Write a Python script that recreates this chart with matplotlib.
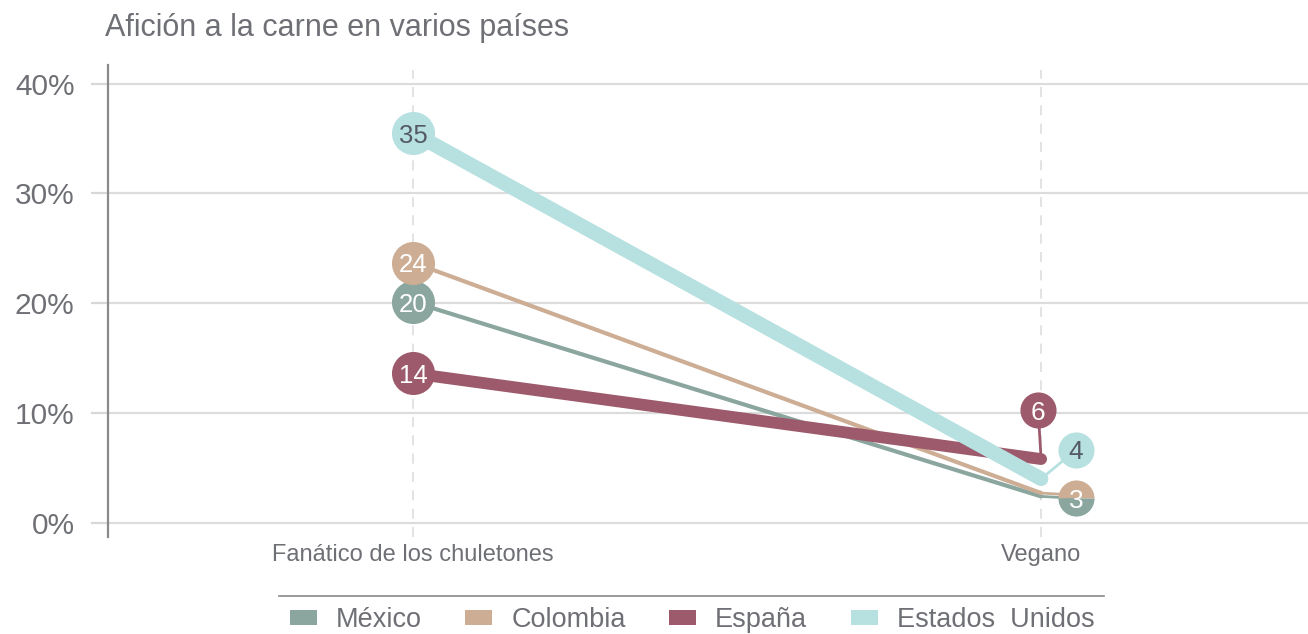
import matplotlib
matplotlib.use("Agg")
import matplotlib.pyplot as plt
from matplotlib.patches import Patch
from matplotlib.lines import Line2D
from matplotlib.transforms import offset_copy

plt.rcParams['font.family'] = ['Liberation Sans', 'DejaVu Sans']

title = "Afición a la carne en varios países"
categories = ["Fanático de los chuletones", "Vegano"]
countries = ["México", "Colombia", "España", "Estados  Unidos"]
mexico = [20.1, 2.4]
colombia = [23.7, 2.7]
espana = [13.6, 5.8]
eeuu = [35.5, 4.0]
start_labels = ["20", "24", "14", "35"]
end_labels = ["3", "3", "6", "4"]
yticks = [0, 10, 20, 30, 40]
ytick_labels = ["0%", "10%", "20%", "30%", "40%"]

series = [mexico, colombia, espana, eeuu]
colors = ["#8aa69f", "#cdae95", "#9d5a6c", "#b6e1e0"]
text_colors = ["white", "white", "white", "#555a66"]
widths = [3, 3, 8.5, 10.5]
TXT = "#6e7075"

W, H = 1308, 634
fig = plt.figure(figsize=(W / 100, H / 100), dpi=100)
ax = fig.add_axes([108 / W, 97 / H, 1 - 108 / W, (537 - 65) / H])
ax.set_xlim(-0.486, 1.425)
ax.set_ylim(-1.3, 41.7)

for s in ["top", "right", "bottom"]:
    ax.spines[s].set_visible(False)
ax.spines["left"].set_color("#8a8a8a")
ax.spines["left"].set_linewidth(1.6)

ax.set_yticks(yticks)
ax.set_yticklabels(ytick_labels, fontsize=21.5, color=TXT)
ax.tick_params(axis="y", length=12, width=1.6, color="#d8d8d8", pad=12)
ax.set_xticks([0, 1])
ax.set_xticklabels(categories, fontsize=17, color=TXT)
ax.tick_params(axis="x", length=0, pad=5)
for y in yticks:
    ax.axhline(y, color="#dcdcdc", lw=1.6, zorder=0)
for x in [0, 1]:
    ax.axvline(x, color="#dedede", lw=1.2, ls=(0, (6, 5)), ymax=0.99, zorder=0)

xs = [0, 1]
for vals, c, lw in zip(series, colors, widths):
    ax.plot(xs, vals, color=c, lw=lw, solid_capstyle="round", zorder=3)

# start markers + labels
for vals, c, tc, lab in zip(series, colors, text_colors, start_labels):
    ax.plot([0], [vals[0]], "o", ms=31, color=c, mec="none", zorder=5)
    ax.text(0, vals[0], lab, fontsize=18.5, color=tc, ha="center", va="center_baseline", zorder=6)

# end labels with leader lines (offsets in pixels)
offsets = [(35, -2), (35, -2), (-3, 49), (35, 29)]
for vals, c, off in zip(series, colors, offsets):
    ax.annotate("", xy=(1, vals[1]), xytext=off, textcoords="offset pixels",
                arrowprops=dict(arrowstyle="-", color=c, lw=2, shrinkA=0, shrinkB=0), zorder=4)
tr_m = offset_copy(ax.transData, fig=fig, x=35, y=-2, units="dots")
ax.plot([1], [mexico[1]], "o", ms=26, color=colors[1], markerfacecoloralt=colors[0],
        fillstyle="top", mec="none", transform=tr_m, zorder=5)
ax.text(1, mexico[1], end_labels[0], fontsize=19, color="white", ha="center",
        va="center_baseline", transform=tr_m, zorder=6)
for idx in [2, 3]:
    off = offsets[idx]
    tr = offset_copy(ax.transData, fig=fig, x=off[0], y=off[1], units="dots")
    ax.plot([1], [series[idx][1]], "o", ms=26, color=colors[idx], mec="none", transform=tr, zorder=5)
    ax.text(1, series[idx][1], end_labels[idx], fontsize=19, color=text_colors[idx],
            ha="center", va="center_baseline", transform=tr, zorder=6)

fig.text(105 / W, 1 - 28 / H, title, fontsize=22, color=TXT, ha="left", va="center")

fig.add_artist(Line2D([279 / W, 1104 / W], [1 - 596 / H] * 2, color="#8a8a8a", lw=1.2))
handles = [Patch(facecolor=c, edgecolor="none") for c in colors]
fig.legend(handles, countries, loc="center", bbox_to_anchor=(692 / W, 1 - 620 / H), ncol=4,
           frameon=False, fontsize=19.5, labelcolor=TXT, handlelength=1.0, handleheight=0.45,
           columnspacing=1.6, handletextpad=0.7)

fig.savefig("out.png", dpi=100)
